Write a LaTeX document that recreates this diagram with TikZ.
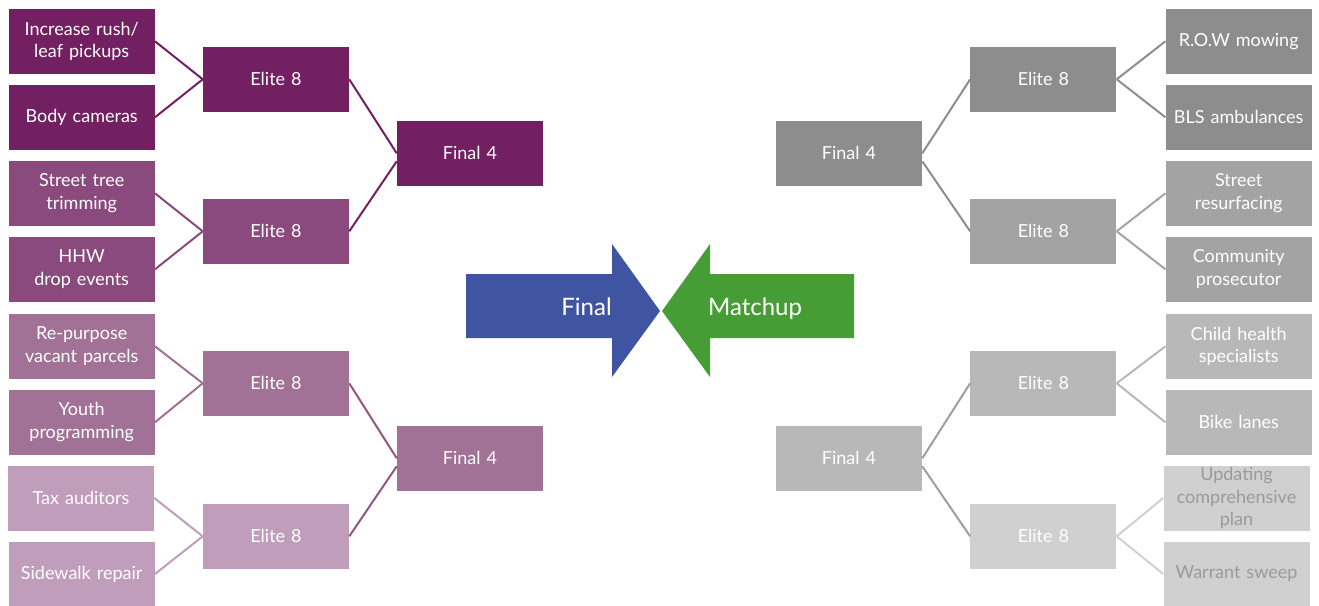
\documentclass[tikz,border=0pt]{standalone}
\usepackage{fontspec}
\setmainfont{Lato}
\definecolor{pA}{HTML}{722062}
\definecolor{pB}{HTML}{8B4A7D}
\definecolor{pC}{HTML}{A27196}
\definecolor{pD}{HTML}{C09DBA}
\definecolor{gA}{HTML}{8D8D8D}
\definecolor{gB}{HTML}{A3A3A3}
\definecolor{gC}{HTML}{B8B8B8}
\definecolor{gD}{HTML}{D0D0D0}
\definecolor{gT}{HTML}{9A9A9A}
\definecolor{arrblue}{HTML}{3F55A1}
\definecolor{arrgreen}{HTML}{469D36}
\tikzset{
  tbox/.style={fill=#1, text=white, minimum width=109.5pt, minimum height=48.75pt,
    inner sep=0pt, text width=108pt, align=center,
    font=\fontsize{13.5}{17}\selectfont},
  link/.style={draw=#1, line width=1.5pt},
  bigtxt/.style={text=white, font=\fontsize{18}{21}\selectfont, inner sep=0pt, anchor=base}
}
\begin{document}
\begin{tikzpicture}[x=0.75pt,y=-0.75pt]
\useasboundingbox (0,0) rectangle (1319,606);
% left leaves
\node[tbox=pA] (l1) at (81.7,41.3) {Increase rush/\\leaf pickups};
\node[tbox=pA] (l2) at (81.7,117.3) {Body cameras};
\node[tbox=pB] (l3) at (81.7,193.3) {Street tree\\trimming};
\node[tbox=pB] (l4) at (81.7,269.3) {HHW\\drop events};
\node[tbox=pC] (l5) at (81.7,346.3) {Re-purpose\\vacant parcels};
\node[tbox=pC] (l6) at (81.7,422.3) {Youth\\programming};
\node[tbox=pD] (l7) at (81,498) {Tax auditors};
\node[tbox=pD] (l8) at (81.7,574) {Sidewalk repair};
% left elite 8
\node[tbox=pA] (le1) at (276,79.3) {Elite 8};
\node[tbox=pB] (le2) at (276,231.3) {Elite 8};
\node[tbox=pC] (le3) at (276,383.3) {Elite 8};
\node[tbox=pD] (le4) at (276,536.3) {Elite 8};
% left final 4
\node[tbox=pA] (lf1) at (470,153.3) {Final 4};
\node[tbox=pC] (lf2) at (470,458.3) {Final 4};
% right leaves
\node[tbox=gA] (r1) at (1238.7,41.3) {R.O.W mowing};
\node[tbox=gA] (r2) at (1238.7,117.3) {BLS ambulances};
\node[tbox=gB] (r3) at (1238.7,193.3) {Street\\resurfacing};
\node[tbox=gB] (r4) at (1238.7,269.3) {Community\\prosecutor};
\node[tbox=gC] (r5) at (1238.7,346.3) {Child health\\specialists};
\node[tbox=gC] (r6) at (1238.7,422.3) {Bike lanes};
\node[tbox=gD, text=gT] (r7) at (1236.5,498) {Updating\\comprehensive\\plan};
\node[tbox=gD, text=gT] (r8) at (1236.5,574) {Warrant sweep};
% right elite 8
\node[tbox=gA] (re1) at (1043.4,79.3) {Elite 8};
\node[tbox=gB] (re2) at (1043.4,231.3) {Elite 8};
\node[tbox=gC] (re3) at (1043.4,383.3) {Elite 8};
\node[tbox=gD] (re4) at (1043.4,536.3) {Elite 8};
% right final 4
\node[tbox=gA] (rf1) at (849,153.3) {Final 4};
\node[tbox=gC] (rf2) at (849,458.3) {Final 4};
% left connectors
\draw[link=pA] (l1.east) -- (le1.west);
\draw[link=pA] (l2.east) -- (le1.west);
\draw[link=pB] (l3.east) -- (le2.west);
\draw[link=pB] (l4.east) -- (le2.west);
\draw[link=pC] (l5.east) -- (le3.west);
\draw[link=pC] (l6.east) -- (le3.west);
\draw[link=pD] (l7.east) -- (le4.west);
\draw[link=pD] (l8.east) -- (le4.west);
\draw[link=pA] (le1.east) -- (lf1.west);
\draw[link=pA] (le2.east) -- ([yshift=-6pt]lf1.west);
\draw[link=pB!70!pC] (le3.east) -- (lf2.west);
\draw[link=pB!70!pC] (le4.east) -- ([yshift=-6pt]lf2.west);
% right connectors
\draw[link=gA] (r1.west) -- (re1.east);
\draw[link=gA] (r2.west) -- (re1.east);
\draw[link=gB] (r3.west) -- (re2.east);
\draw[link=gB] (r4.west) -- (re2.east);
\draw[link=gC] (r5.west) -- (re3.east);
\draw[link=gC] (r6.west) -- (re3.east);
\draw[link=gD] (r7.west) -- (re4.east);
\draw[link=gD] (r8.west) -- (re4.east);
\draw[link=gA] (rf1.east) -- (re1.west);
\draw[link=gA] ([yshift=-6pt]rf1.east) -- (re2.west);
\draw[link=gA!60!gC] (rf2.east) -- (re3.west);
\draw[link=gA!60!gC] ([yshift=-6pt]rf2.east) -- (re4.west);
% central arrows
\fill[arrblue] (466,274) -- (612,274) -- (612,244) -- (660,311) -- (612,377) -- (612,338) -- (466,338) -- cycle;
\fill[arrgreen] (854,274) -- (710,274) -- (710,244) -- (662,311) -- (710,377) -- (710,338) -- (854,338) -- cycle;
\node[bigtxt] (fin) at (586.5,315) {Final};
\node[bigtxt] (mat) at (755,315) {Matchup};
\end{tikzpicture}
\end{document}
